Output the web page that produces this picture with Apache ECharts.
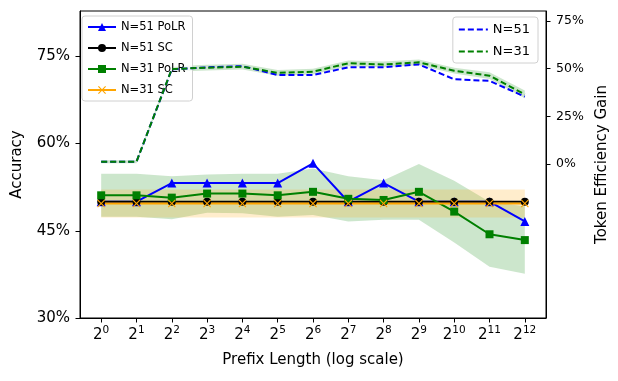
<!DOCTYPE html>
<html>
<head>
<meta charset="utf-8">
<script src="https://cdn.jsdelivr.net/npm/echarts@6/dist/echarts.min.js"></script>
<style>
  html, body { margin: 0; padding: 0; background: #fff; }
</style>
</head>
<body>
<div id="main" style="width:618px;height:381px;"></div>
<script>
// x positions are log2 of the prefix length
const xExp = [0, 1, 2, 3, 4, 5, 6, 7, 8, 9, 10, 11, 12];

// accuracy (%), left axis
const acc51PoLR = [50.0, 50.0, 53.2, 53.2, 53.2, 53.2, 56.6, 50.0, 53.2, 50.0, 50.0, 50.0, 46.6];
const acc51SC = [50.0, 50.0, 50.0, 50.0, 50.0, 50.0, 50.0, 50.0, 50.0, 50.0, 50.0, 50.0, 50.0];
const acc31PoLR = [51.1, 51.1, 50.7, 51.4, 51.4, 51.1, 51.7, 50.5, 50.3, 51.7, 48.3, 44.4, 43.4];
const acc31PoLRsd = [3.7, 3.7, 3.7, 3.3, 3.4, 3.7, 4.0, 3.9, 3.4, 4.8, 5.3, 5.6, 5.8];
const acc31SC = [49.7, 49.7, 49.7, 49.7, 49.7, 49.7, 49.7, 49.7, 49.7, 49.7, 49.7, 49.7, 49.7];
const acc31SCsd = [2.4, 2.4, 2.4, 2.4, 2.4, 2.4, 2.4, 2.4, 2.4, 2.4, 2.4, 2.4, 2.4];

// token efficiency gain (%), right axis
const eff51 = [1.2, 1.2, 49.6, 50.7, 51.3, 46.6, 46.6, 50.7, 50.7, 52.2, 44.4, 43.6, 35.3];
const eff31 = [1.2, 1.2, 49.8, 50.5, 51.0, 47.8, 48.4, 52.8, 52.2, 53.3, 48.9, 46.3, 36.5];
const eff31sd = [0.8, 0.8, 1.5, 1.5, 1.5, 1.5, 1.5, 1.5, 1.5, 1.5, 1.5, 1.8, 2.0];

const leftTicks = [30, 45, 60, 75];
const rightTicks = [0, 25, 50, 75];

const FONT = 'DejaVu Sans';
const pts = arr => arr.map((v, i) => [xExp[i], v]);

// fill between mean-sd and mean+sd
function band(mean, sd, color, yIdx) {
  return {
    type: 'custom',
    yAxisIndex: yIdx,
    silent: true,
    z: 1,
    data: [[xExp[0], mean[0]]],
    renderItem: function (params, api) {
      let top = [], bot = [];
      for (let i = 0; i < xExp.length; i++) {
        top.push(api.coord([xExp[i], mean[i] + sd[i]]));
        bot.unshift(api.coord([xExp[i], mean[i] - sd[i]]));
      }
      return {
        type: 'polygon',
        shape: { points: top.concat(bot) },
        style: { fill: color, opacity: 0.2 }
      };
    }
  };
}

const xMark = 'path://M1,0L5,4L9,0L10,1L6,5L10,9L9,10L5,6L1,10L0,9L4,5L0,1Z';

var myChart = echarts.init(document.getElementById('main'));
let option = {
  animation: false,
  textStyle: { fontFamily: FONT },
  grid: {
    left: 80, right: 72, top: 11, bottom: 63,
    show: true, borderColor: '#000', borderWidth: 1
  },
  legend: [
    {
      data: ['N=51 PoLR', 'N=51 SC', 'N=31 PoLR', 'N=31 SC'],
      orient: 'vertical',
      left: 82, top: 16,
      itemWidth: 28, itemHeight: 10, itemGap: 9,
      padding: [5, 7, 5, 5],
      backgroundColor: 'rgba(255,255,255,0.8)',
      borderColor: '#d0d0d0', borderWidth: 1, borderRadius: 3,
      textStyle: { fontFamily: FONT, fontSize: 11.5, color: '#000' }
    },
    {
      data: ['N=51', 'N=31'],
      orient: 'vertical',
      right: 80, top: 17,
      itemWidth: 29, itemHeight: 10, itemGap: 9,
      padding: [6, 8, 5, 5],
      backgroundColor: 'rgba(255,255,255,0.8)',
      borderColor: '#d0d0d0', borderWidth: 1, borderRadius: 3,
      itemStyle: { opacity: 0 },
      textStyle: { fontFamily: FONT, fontSize: 13, color: '#000' }
    }
  ],
  xAxis: {
    type: 'value',
    min: -0.6, max: 12.6,
    name: 'Prefix Length (log scale)',
    nameLocation: 'middle',
    nameGap: 35,
    nameTextStyle: { fontFamily: FONT, fontSize: 15, color: '#000' },
    axisLine: { show: true, onZero: false, lineStyle: { color: '#000' } },
    axisTick: { show: true, length: 4.5, lineStyle: { color: '#000' }, customValues: xExp },
    splitLine: { show: false },
    axisLabel: {
      customValues: xExp,
      margin: 7,
      formatter: v => '{b|2}{s|' + v + '}',
      rich: {
        b: { fontFamily: FONT, fontSize: 15, color: '#000', verticalAlign: 'bottom' },
        s: { fontFamily: FONT, fontSize: 10.5, color: '#000', verticalAlign: 'bottom', padding: [0, 0, 7, 0] }
      }
    }
  },
  yAxis: [
    {
      type: 'value',
      min: 30, max: 82.8,
      name: 'Accuracy',
      nameLocation: 'middle',
      nameGap: 55,
      nameTextStyle: { fontFamily: FONT, fontSize: 15, color: '#000' },
      axisLine: { show: true, onZero: false, lineStyle: { color: '#000' } },
      axisTick: { show: true, length: 4.5, lineStyle: { color: '#000' }, customValues: leftTicks },
      splitLine: { show: false },
      axisLabel: {
        customValues: leftTicks,
        margin: 10,
        fontFamily: FONT, fontSize: 15, color: '#000',
        formatter: v => v + '%'
      }
    },
    {
      type: 'value',
      min: -80.7, max: 80.2,
      position: 'right',
      name: 'Token Efficiency Gain',
      nameLocation: 'middle',
      nameGap: 45,
      nameRotate: 90,
      nameTextStyle: { fontFamily: FONT, fontSize: 15, color: '#000' },
      axisLine: { show: true, onZero: false, lineStyle: { color: '#000' } },
      axisTick: { show: true, length: 4.5, lineStyle: { color: '#000' }, customValues: rightTicks },
      splitLine: { show: false },
      axisLabel: {
        customValues: rightTicks,
        margin: 10,
        fontFamily: FONT, fontSize: 12.5, color: '#000',
        formatter: v => v + '%'
      }
    }
  ],
  series: [
    band(acc31PoLR, acc31PoLRsd, '#008000', 0),
    band(acc31SC, acc31SCsd, '#ffa500', 0),
    band(eff31, eff31sd, '#008000', 1),
    {
      name: 'N=51 PoLR', type: 'line', yAxisIndex: 0, z: 3,
      data: pts(acc51PoLR),
      symbol: 'triangle', symbolSize: 9,
      lineStyle: { color: '#0000ff', width: 2 },
      itemStyle: { color: '#0000ff' }
    },
    {
      name: 'N=51 SC', type: 'line', yAxisIndex: 0, z: 3,
      data: pts(acc51SC),
      symbol: 'circle', symbolSize: 8,
      lineStyle: { color: '#000', width: 2 },
      itemStyle: { color: '#000' }
    },
    {
      name: 'N=31 PoLR', type: 'line', yAxisIndex: 0, z: 3,
      data: pts(acc31PoLR),
      symbol: 'rect', symbolSize: 8,
      lineStyle: { color: '#008000', width: 2 },
      itemStyle: { color: '#008000' }
    },
    {
      name: 'N=31 SC', type: 'line', yAxisIndex: 0, z: 3,
      data: pts(acc31SC),
      symbol: xMark, symbolSize: 8,
      lineStyle: { color: '#ffa500', width: 2 },
      itemStyle: { color: '#ffa500' }
    },
    {
      name: 'N=51', type: 'line', yAxisIndex: 1, z: 4,
      data: pts(eff51),
      symbol: 'none',
      lineStyle: { color: '#0000ff', width: 2, type: [6, 3] },
      itemStyle: { color: '#0000ff' }
    },
    {
      name: 'N=31', type: 'line', yAxisIndex: 1, z: 4,
      data: pts(eff31),
      symbol: 'none',
      lineStyle: { color: '#008000', width: 2, type: [6, 3] },
      itemStyle: { color: '#008000' }
    }
  ]
};
myChart.setOption(option);
</script>
</body>
</html>
